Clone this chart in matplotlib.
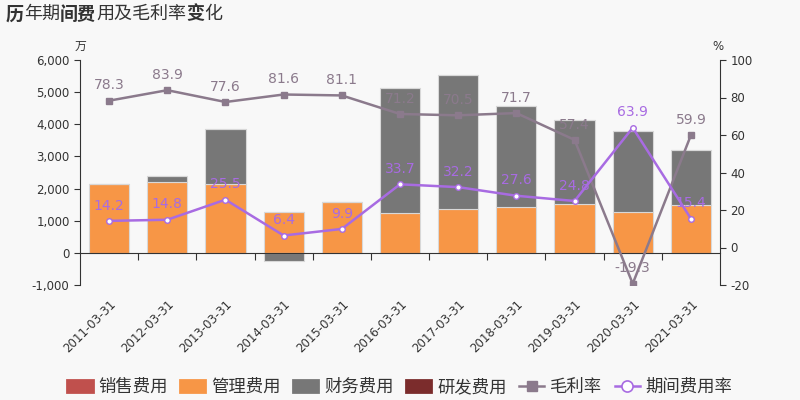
import numpy as np
import matplotlib
matplotlib.use("Agg")
import matplotlib.pyplot as plt
from matplotlib.patches import Patch
from matplotlib.lines import Line2D
from matplotlib.ticker import FuncFormatter

plt.rcParams['font.family'] = ['DejaVu Sans', 'Noto Sans CJK SC']
plt.rcParams['axes.unicode_minus'] = False

# ===== 数据 =====
dates = ["2011-03-31", "2012-03-31", "2013-03-31", "2014-03-31", "2015-03-31", "2016-03-31",
         "2017-03-31", "2018-03-31", "2019-03-31", "2020-03-31", "2021-03-31"]
sales_fee = [0, 0, 0, 0, 0, 0, 0, 0, 0, 0, 0]
admin_fee = [2137, 2209, 2137, 1285, 1587, 1254, 1359, 1431, 1515, 1276, 1503]
fin_fee = [0, 177, 1730, -240, 0, 3889, 4179, 3143, 2623, 2520, 1702]
rd_fee = [0, 0, 0, 0, 0, 0, 0, 0, 0, 0, 0]
gross_margin = [78.3, 83.9, 77.6, 81.6, 81.1, 71.2, 70.5, 71.7, 57.4, -19.3, 59.9]
period_rate = [14.2, 14.8, 25.5, 6.4, 9.9, 33.7, 32.2, 27.6, 24.8, 63.9, 15.4]

c_sales = "#c0504d"
c_admin = "#f79646"
c_fin = "#777777"
c_rd = "#7b2c2c"
c_gm = "#8b7a8c"
c_pr = "#a86be2"
bg = "#f8f8f8"
txt = "#333333"

fig = plt.figure(figsize=(8, 4), dpi=100, facecolor=bg)
ax = fig.add_axes([0.1, 0.2875, 0.8, 0.5625], facecolor=bg)
ax2 = ax.twinx()

x = np.arange(len(dates))
w = 0.69

# --- 堆叠柱 (正负分开堆) ---
pos_base = np.zeros(len(x))
neg_base = np.zeros(len(x))
for vals, col in [(sales_fee, c_sales), (admin_fee, c_admin), (fin_fee, c_fin), (rd_fee, c_rd)]:
    v = np.array(vals, dtype=float)
    base = np.where(v >= 0, pos_base, neg_base)
    ax.bar(x, v, w, bottom=base, color=col, edgecolor="#d8d8d8", linewidth=0.8, zorder=2)
    pos_base += np.where(v > 0, v, 0)
    neg_base += np.where(v < 0, v, 0)

ax.set_xlim(-0.5, len(x) - 0.5)
ax.set_ylim(-1000, 6000)
ax.set_yticks(np.arange(-1000, 6001, 1000))
ax.yaxis.set_major_formatter(FuncFormatter(lambda v, p: f"{int(v):,}"))

# x轴: 0 位置的线 + 类别边界 tick
ax.spines['bottom'].set_position(('data', 0))
ax.spines['top'].set_visible(False)
ax.spines['right'].set_visible(False)
ax.set_xticks(np.arange(0.5, len(x) - 0.5, 1))
ax.tick_params(axis='x', length=5, labelbottom=False, color=txt)
ax.tick_params(axis='y', labelsize=8.5, labelcolor=txt, color=txt, length=4)
for s in ['left', 'bottom']:
    ax.spines[s].set_color(txt)

sec = ax.secondary_xaxis(-0.035)
sec.set_xticks(x)
sec.set_xticklabels(dates, rotation=45, ha='right', rotation_mode='anchor', fontsize=8.5, color=txt)
sec.tick_params(length=0)
sec.spines['bottom'].set_visible(False)

# --- 折线 (右轴) ---
ax2.plot(x, gross_margin, color=c_gm, lw=1.8, marker='s', ms=4, mfc=c_gm, mec=c_gm, zorder=3)
ax2.plot(x, period_rate, color=c_pr, lw=1.8, marker='o', ms=4, mfc='white', mec=c_pr, mew=1, zorder=4)
for xi, v in zip(x, gross_margin):
    ax2.annotate(f"{v}", (xi, v), xytext=(0, 11), textcoords='offset points',
                 ha='center', va='center', fontsize=10, color=c_gm)
for xi, v in zip(x, period_rate):
    ax2.annotate(f"{v}", (xi, v), xytext=(0, 11), textcoords='offset points',
                 ha='center', va='center', fontsize=10, color=c_pr)

ax2.set_ylim(-20, 100)
ax2.set_yticks(np.arange(-20, 101, 20))
ax2.tick_params(axis='y', labelsize=8.5, labelcolor=txt, color=txt, length=4)
for s in ['top', 'left', 'bottom']:
    ax2.spines[s].set_visible(False)
ax2.spines['right'].set_color(txt)

ax.text(0, 1.06, "万", transform=ax.transAxes, ha='center', va='center', fontsize=8.5, color=txt)
ax.text(0.997, 1.06, "%", transform=ax.transAxes, ha='center', va='center', fontsize=8.5, color=txt)

# --- 标题 (部分字加粗), 每个汉字宽 1em ---
title_parts = [("历", "bold"), ("年期", "normal"), ("间费", "bold"), ("用及毛利率", "normal"),
               ("变", "bold"), ("化", "normal")]
title_size = 13
em = title_size / 72 * fig.dpi / (fig.dpi * 8)
xpos = 6 / 800
for s, wt in title_parts:
    fig.text(xpos, 1 - 14 / 400, s, fontsize=title_size, fontweight=wt, color=txt,
             family=['Noto Sans CJK SC'], va='center', ha='left')
    xpos += len(s) * em

# --- 图例 ---
handles = [
    Patch(facecolor=c_sales, edgecolor=c_sales, lw=2, joinstyle='round'),
    Patch(facecolor=c_admin, edgecolor=c_admin, lw=2, joinstyle='round'),
    Patch(facecolor=c_fin, edgecolor=c_fin, lw=2, joinstyle='round'),
    Patch(facecolor=c_rd, edgecolor=c_rd, lw=2, joinstyle='round'),
    Line2D([], [], color=c_gm, lw=1.8, marker='s', ms=7, mfc=c_gm, mec=c_gm),
    Line2D([], [], color=c_pr, lw=1.8, marker='o', ms=8, mfc='white', mec=c_pr, mew=1.2),
]
labels = ["销售费用", "管理费用", "财务费用", "研发费用", "毛利率", "期间费用率"]
fig.legend(handles, labels, loc='center', bbox_to_anchor=(0.5, 1 - 387 / 400), ncol=6,
           frameon=False, fontsize=12.5, handlelength=1.45, handleheight=0.65,
           handletextpad=0.35, columnspacing=0.7, labelcolor=txt,
           prop={'family': ['Noto Sans CJK SC'], 'size': 12.5})

fig.savefig("out.png", dpi=100, facecolor=bg)
